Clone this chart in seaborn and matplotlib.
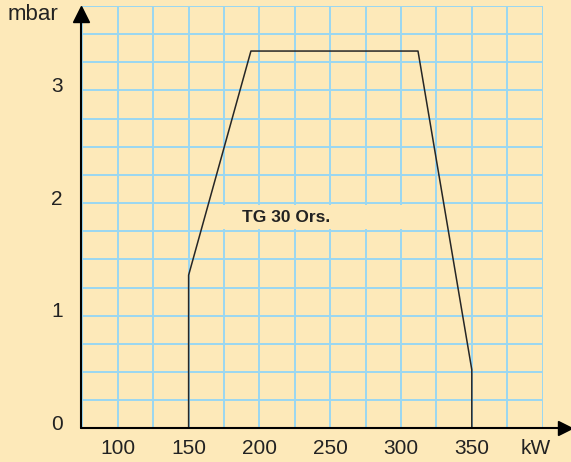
import seaborn as sns, matplotlib.pyplot as plt, numpy as np
import pandas as pd
from matplotlib.patches import Rectangle
from matplotlib.transforms import ScaledTranslation

# curve of TG 30 Ors. (kW vs mbar)
power_kw = [150, 150, 194, 312, 350, 350]
pressure_mbar = [0, 1.36, 3.35, 3.35, 0.52, 0]
x_ticks = [100, 150, 200, 250, 300, 350]
y_ticks = [0, 1, 2, 3]
series_label = "TG 30 Ors."

bg = '#FDE9B9'
grid_col = '#9AD7F2'

sns.set_style('white', {'axes.facecolor': bg, 'figure.facecolor': bg})
plt.rcParams['font.family'] = ['Liberation Sans', 'DejaVu Sans']

fig = plt.figure(figsize=(5.71, 4.62), dpi=100)
ax = fig.add_axes([81/571, (462-428.3)/462, (542.6-81)/571, (428.3-6)/462])

df = pd.DataFrame({'kW': power_kw, 'mbar': pressure_mbar})
sns.lineplot(data=df, x='kW', y='mbar', sort=False, estimator=None, errorbar=None,
             color='#262626', lw=1.1, ax=ax, zorder=4)

ax.set_xlim(74, 400)
ax.set_ylim(0, 3.75)

# light blue grid every 25 kW / 0.25 mbar
ax.set_xticks(np.arange(75, 401, 25), minor=True)
ax.set_yticks(np.arange(0, 3.76, 0.25), minor=True)
ax.set_xticks(x_ticks)
ax.set_yticks(y_ticks)
ax.grid(which='both', color=grid_col, lw=1.4, zorder=1)
ax.set_axisbelow(True)

# label box hides the vertical grid lines
ax.add_patch(Rectangle((161, 1.768), 154, 0.214, facecolor=bg, edgecolor='none', zorder=2))
ax.text(218.6, 1.874, series_label, fontsize=12.5, fontweight='bold', color='#222222',
        ha='center', va='center', zorder=5)

ax.set_xticklabels([str(v) for v in x_ticks], fontsize=15, color='#222222')
ax.set_yticklabels([str(v) for v in y_ticks], fontsize=15, color='#222222')
ax.tick_params(which='both', length=0)
ax.tick_params(axis='x', pad=8)
ax.tick_params(axis='y', pad=13)
off = ScaledTranslation(0, 6/100, fig.dpi_scale_trans)
for lab in ax.get_yticklabels():
    lab.set_transform(lab.get_transform() + off)
ax.set_xlabel('')
ax.set_ylabel('')

for s in ax.spines.values():
    s.set_visible(False)

# axes with arrows
ax.plot([0, 1.045], [0, 0], transform=ax.transAxes, color='black', lw=1.5, clip_on=False, zorder=6)
ax.plot([1.048], [0], transform=ax.transAxes, marker='>', ms=10, color='black', clip_on=False, zorder=6)
ax.plot([0, 0], [0, 0.975], transform=ax.transAxes, color='black', lw=1.5, clip_on=False, zorder=6)
ax.plot([0], [0.982], transform=ax.transAxes, marker='^', ms=11, color='black', clip_on=False, zorder=6)

fig.text(8/571, 1 - 15/462, 'mbar', fontsize=16, color='#222222', ha='left', va='center')
ax.text(395, -0.0, 'kW', fontsize=15, color='#222222', ha='center', va='top',
        transform=ax.transData + ScaledTranslation(0, -8/72, fig.dpi_scale_trans))

fig.savefig('out.png', dpi=100, facecolor=bg)
